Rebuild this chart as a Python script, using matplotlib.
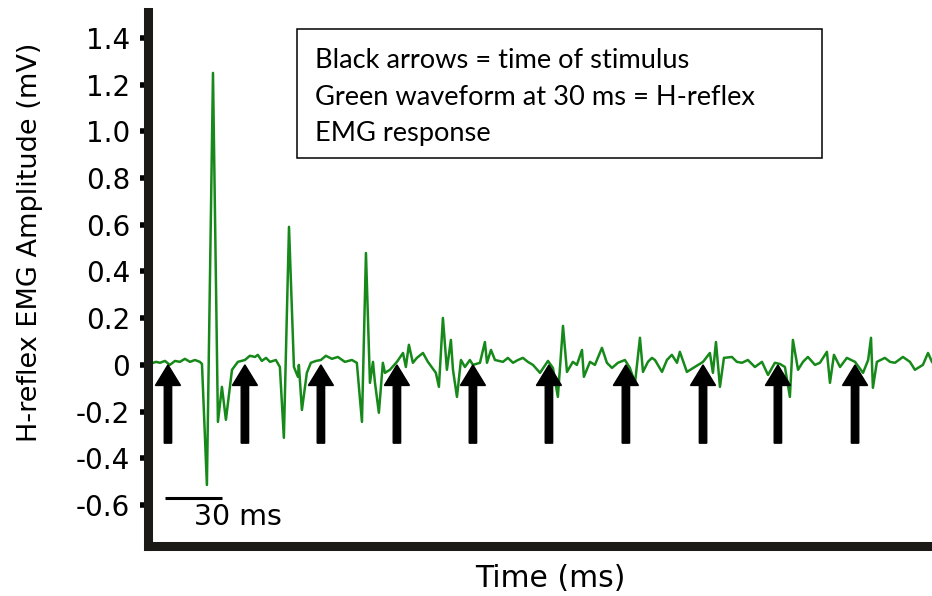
import matplotlib
matplotlib.use("Agg")
import matplotlib.pyplot as plt
from matplotlib.patches import Rectangle

# EMG trace (time in ms, amplitude in mV)
time_ms = [
    0.0, 3.2, 5.3, 7.9, 10.5, 13.2, 15.8, 18.4, 21.1, 23.7, 26.3, 27.4,
    30.0, 33.2, 35.8, 37.9, 40.0, 43.2, 46.3, 50.0, 52.6, 55.3, 56.8, 58.9,
    61.1, 63.2, 66.3, 68.4, 70.5, 73.2, 75.8, 77.9, 78.4, 80.0, 82.6, 84.7,
    87.4, 90.0, 92.6, 95.8, 98.9, 102.6, 106.3, 108.9, 111.6, 113.7, 115.8, 117.4,
    118.4, 120.5, 122.6, 123.7, 126.3, 130.0, 133.2, 134.7, 136.3, 138.4, 140.5, 143.7,
    146.3, 150.5, 152.1, 154.2, 156.3, 158.4, 159.5, 161.6, 163.7, 165.8, 168.4, 170.0,
    173.7, 176.3, 177.4, 179.5, 181.6, 185.8, 188.4, 191.1, 193.7, 196.3, 198.9, 201.6,
    205.3, 209.5, 212.1, 214.7, 217.4, 219.5, 222.6, 224.7, 227.4, 228.4, 231.6, 234.2,
    237.9, 240.5, 243.2, 246.3, 250.0, 252.6, 255.3, 257.9, 259.5, 262.1, 264.2, 265.8,
    269.5, 272.1, 274.7, 277.4, 278.9, 282.6, 286.8, 291.1, 294.7, 296.3, 297.9, 300.0,
    302.1, 306.3, 308.9, 311.6, 314.7, 318.4, 322.1, 325.3, 328.9, 331.6, 334.2, 336.8,
    338.4, 341.1, 343.7, 346.3, 350.0, 352.6, 356.3, 357.9, 360.0, 363.2, 366.8, 371.1,
    375.3, 378.0, 379.5, 380.5, 382.6, 386.8, 389.5, 392.1, 396.3, 400.0, 402.6, 406.8,
    409.5, 411.6,
]
emg_mv = [
    0.004, 0.013, 0.009, 0.017, 0.0, 0.017, 0.013, 0.026, 0.013, 0.021, 0.013, 0.004,
    -0.514, 1.250, -0.244, -0.094, -0.235, -0.021, 0.013, 0.021, 0.039, 0.034, 0.043, 0.017,
    0.030, 0.013, 0.021, -0.009, -0.312, 0.591, -0.009, -0.051, 0.0, -0.193, -0.034, 0.009,
    0.017, 0.021, 0.039, 0.026, 0.034, 0.013, 0.021, 0.009, -0.244, 0.479, -0.077, 0.013,
    -0.073, -0.205, 0.009, -0.034, -0.021, 0.013, 0.051, -0.009, 0.086, 0.009, 0.030, 0.051,
    0.013, -0.034, -0.094, 0.201, -0.021, 0.107, -0.021, -0.137, 0.021, -0.009, 0.021, 0.0,
    0.009, 0.098, 0.009, 0.064, 0.021, 0.013, 0.030, 0.009, 0.021, 0.030, 0.013, 0.0,
    -0.034, 0.017, -0.013, -0.137, 0.167, -0.030, 0.013, 0.0, 0.064, -0.051, 0.013, 0.0,
    0.073, 0.009, -0.013, 0.009, 0.021, -0.013, -0.077, 0.116, -0.030, 0.013, 0.030, 0.021,
    -0.030, 0.021, 0.043, 0.009, 0.056, -0.030, -0.009, 0.013, 0.051, -0.034, 0.098, -0.094,
    0.030, 0.034, 0.013, 0.009, 0.021, -0.009, 0.013, -0.043, 0.009, 0.004, -0.009, -0.137,
    0.107, -0.021, 0.013, 0.034, 0.0, 0.009, 0.056, -0.077, 0.043, -0.009, 0.030, 0.013,
    -0.034, 0.021, 0.116, -0.098, 0.013, 0.030, 0.013, 0.009, 0.034, 0.013, -0.021, 0.0,
    0.051, 0.013,
]

# stimulus times (ms)
stim_ms = [9.5, 50.0, 90.0, 130.0, 170.0, 210.0, 250.5, 291.1, 330.5, 371.1]

yticks = [-0.6, -0.4, -0.2, 0, 0.2, 0.4, 0.6, 0.8, 1.0, 1.2, 1.4]
yticklabels = ["-0.6", "-0.4", "-0.2", "0", "0.2", "0.4", "0.6", "0.8", "1.0", "1.2", "1.4"]

note_lines = ["Black arrows = time of stimulus",
              "Green waveform at 30 ms = H-reflex",
              "EMG response"]

plt.rcParams["font.family"] = ["DejaVu Sans"]

fig = plt.figure(figsize=(9.32, 5.96), dpi=100)
ax = fig.add_axes([0.1588, 0.084, 0.8412, 0.896])

ax.plot(time_ms, emg_mv, color="#17891a", lw=1.8, zorder=2)

# stimulus arrows
for t in stim_ms:
    ax.arrow(t, -0.335, 0, 0.335, width=3.9, head_width=13.2, head_length=0.088,
             length_includes_head=True, color="black", zorder=3)

# 30 ms scale bar
ax.plot([7.9, 37.9], [-0.569, -0.569], color="black", lw=2.2, solid_capstyle="butt")
ax.text(46.3, -0.65, "30 ms", ha="center", va="center", fontsize=20.5)

ax.set_xlim(-1.0, 411.6)
ax.set_ylim(-0.775, 1.511)

for side in ["top", "right"]:
    ax.spines[side].set_visible(False)
for side in ["left", "bottom"]:
    ax.spines[side].set_linewidth(6.5)
    ax.spines[side].set_color("#1c1a17")

ax.set_xticks([])
ax.set_yticks(yticks)
ax.set_yticklabels(yticklabels)
ax.tick_params(axis="y", direction="out", length=5.5, width=4, pad=7.5,
               labelsize=20, color="black")

fig.text(0.0322, 0.594, "H-reflex EMG Amplitude (mV)", rotation=90,
         ha="center", va="center", fontsize=19.5)
fig.text(0.590, 0.0302, "Time (ms)", ha="center", va="center", fontsize=21.5)

# note box
box = Rectangle((0.190, 0.7266), 0.670, 0.2416, transform=ax.transAxes,
                facecolor="white", edgecolor="black", lw=1.1, zorder=4)
ax.add_patch(box)
for i, line in enumerate(note_lines):
    ax.text(0.213, 0.9085 - i * 0.0684, line, transform=ax.transAxes,
            ha="left", va="center", fontsize=19.6, family=["Lato", "DejaVu Sans"],
            zorder=5)

fig.savefig("out.png", dpi=100)
